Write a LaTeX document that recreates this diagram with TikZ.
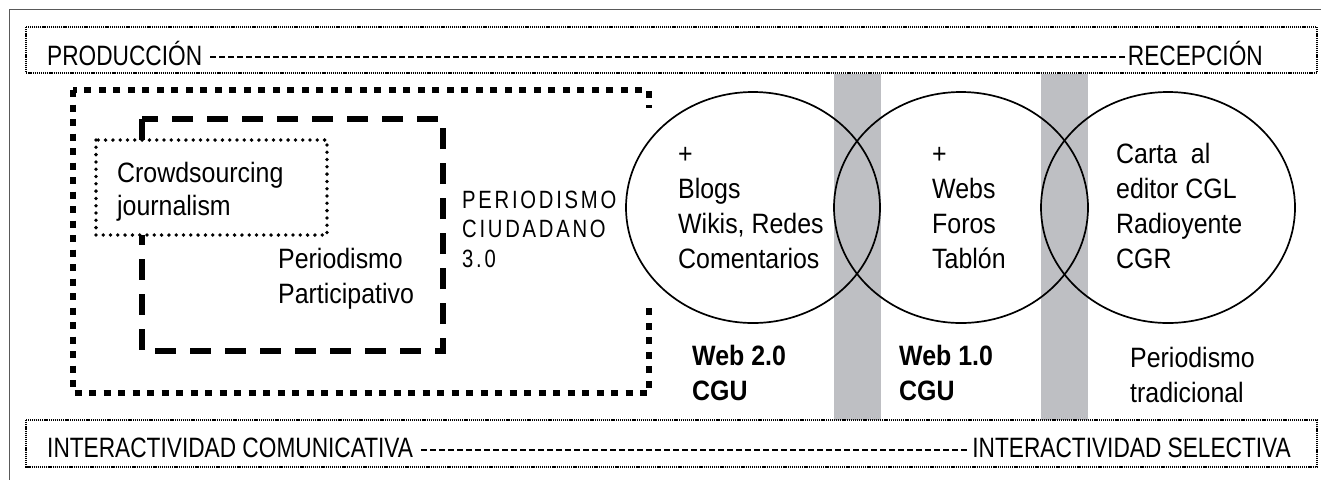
\documentclass[tikz,border=0pt]{standalone}
\usetikzlibrary{shapes.geometric}
\usepackage{fontspec}
\setmainfont{Liberation Sans}
\newfontfamily\lcfam[FakeStretch=0.89]{Liberation Sans}
\newfontfamily\ucfam[FakeStretch=0.81]{Liberation Sans}
\newfontfamily\spfam[FakeStretch=0.81,LetterSpace=11]{Liberation Sans}
\newcommand\fUC{\ucfam\fontsize{28}{34}\selectfont}
\newcommand\fLC{\lcfam\fontsize{28}{34.7}\selectfont}
\newcommand\fLCB{\lcfam\bfseries\fontsize{28}{35}\selectfont}
\newcommand\fCR{\lcfam\fontsize{28}{33}\selectfont}
\newcommand\fSP{\spfam\fontsize{25}{29.5}\selectfont}
\definecolor{barGray}{RGB}{190,191,195}
\begin{document}
\begin{tikzpicture}[x=1pt,y=-1pt,
  frameline/.style={draw=black!65, line width=1.5pt},
  bandbox/.style={draw=black, line width=2pt, dash pattern=on 1.2pt off 0.9pt},
  hyph/.style={draw=black, line width=1.6pt, dash pattern=on 6pt off 3pt},
  grayband/.style={fill=barGray, draw=none},
  ring/.style={draw=black, line width=1.7pt, ellipse, minimum width=254pt, minimum height=231pt, inner sep=0pt},
  bigdots/.style={draw=black, line width=6.5pt, dash pattern=on 7pt off 7.5pt},
  longdash/.style={draw=black, line width=5.5pt, dash pattern=on 21pt off 14pt},
  rounddots/.style={draw=black, line width=3.8pt, line cap=round, dash pattern=on 0pt off 7.3pt},
  txt/.style={inner sep=0pt, anchor=base west, align=left}
]
\useasboundingbox (0,0) rectangle (1321,480);
% outer frame (top and left)
\draw[frameline] (1321,9.5) -- (9.5,9.5) -- (9.5,480);
% gray bands
\fill[grayband] (834,74) rectangle (881,420);
\fill[grayband] (1041,74) rectangle (1088,420);
% top and bottom bands
\draw[bandbox] (26,27) rectangle (1317,73);
\draw[bandbox] (26,420) rectangle (1317,467);
% big dotted rectangle
\draw[bigdots] (73,90) rectangle (649,393);
\fill[white] (640,108) rectangle (660,302);
% circles
\node[ring] (c1) at (753,207.5) {};
\node[ring] (c2) at (961,207.5) {};
\node[ring] (c3) at (1168,207.5) {};
% dashed rectangle
\draw[longdash] (142,119) rectangle (443,351);
% crowdsourcing box
\fill[white] (96,140) rectangle (327,235);
\draw[rounddots] (96,140) rectangle (327,235);
% band texts
\node[txt, font=\fUC] (prod) at (47,65) {PRODUCCIÓN};
\node[txt, font=\fUC, anchor=base east] (recep) at (1263,65) {RECEPCIÓN};
\node[txt, font=\fUC] (icom) at (47,457) {INTERACTIVIDAD COMUNICATIVA};
\node[txt, font=\fUC, anchor=base east] (isel) at (1291,457) {INTERACTIVIDAD SELECTIVA};
\draw[hyph] ([xshift=8pt,yshift=8pt]prod.base east) -- ([xshift=-2pt,yshift=8pt]recep.base west);
\draw[hyph] ([xshift=8pt,yshift=7pt]icom.base east) -- ([xshift=-2pt,yshift=7pt]isel.base west);
% left texts (anchor = baseline of last line)
\node[txt, font=\fCR] (crowd) at (117,215) {Crowdsourcing\\journalism};
\node[txt, font=\fLC] (part) at (278,303) {Periodismo\\Participativo};
\node[txt, font=\fSP] (ciud) at (462,267) {PERIODISMO\\CIUDADANO\\3.0};
% circle texts
\node[txt, font=\fLC] (t1) at (678,268) {+\\Blogs\\Wikis, Redes\\Comentarios};
\node[txt, font=\fLC] (t2) at (932,268) {+\\Webs\\Foros\\Tablón};
\node[txt, font=\fLC] (t3) at (1116,268) {Carta\ \ al\\editor CGL\\Radioyente\\CGR};
% captions
\node[txt, font=\fLCB] (w2) at (692,400) {Web 2.0\\CGU};
\node[txt, font=\fLCB] (w1) at (899,400) {Web 1.0\\CGU};
\node[txt, font=\fLC] (pt) at (1130,402) {Periodismo\\tradicional};
\end{tikzpicture}
\end{document}
